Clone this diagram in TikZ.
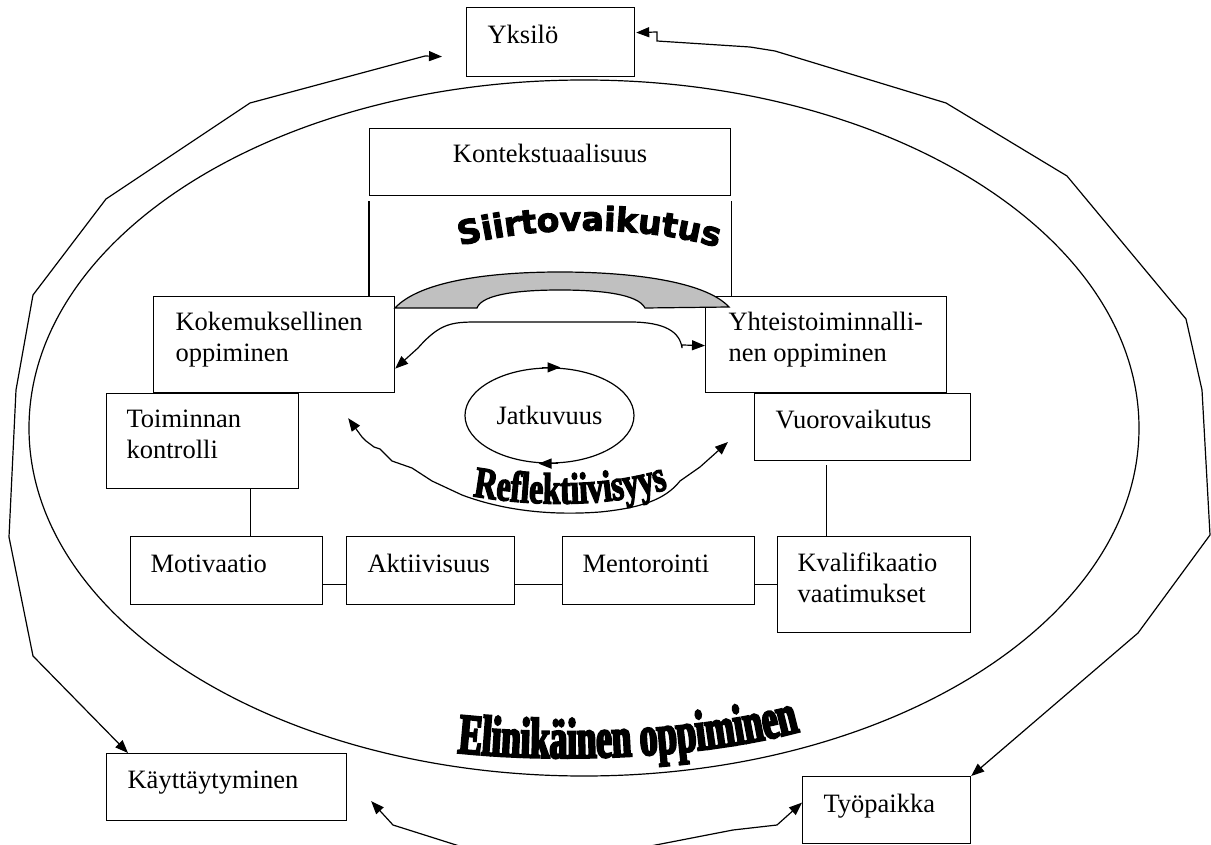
\documentclass[tikz,border=0pt]{standalone}
\usepackage{fontspec}
\setmainfont{Liberation Serif}
\newfontfamily\siirtofont{DejaVu Sans Bold}[FakeBold=3]
\newfontfamily\reflfont{Liberation Serif Bold}[FakeStretch=0.72,FakeBold=3]
\newfontfamily\elinfont{Liberation Serif Bold}[FakeStretch=0.62,FakeBold=4]
\usetikzlibrary{arrows.meta,shapes.geometric,decorations.text,calc}
\newcommand\siirtostyle{\siirtofont\fontsize{33pt}{36pt}\selectfont}
\newcommand\reflstyle{\reflfont\fontsize{44pt}{48pt}\selectfont}
\newcommand\elinstyle{\elinfont\fontsize{57pt}{60pt}\selectfont}
\begin{document}
\begin{tikzpicture}[x=1pt,y=-1pt,line width=1.2pt,
  >={Triangle[length=13pt,width=10pt]},
  box/.style={draw,rectangle,fill=white,anchor=north west,inner sep=0pt},
  lbl/.style={anchor=base west,inner sep=0pt,align=left,
    font=\fontsize{26.5pt}{31pt}\selectfont},
  thin/.style={line width=1pt}]
\useasboundingbox (0,0) rectangle (1211,845);
\clip (0,0) rectangle (1211,845);

% outer ellipse: lifelong learning
\node[draw,ellipse,minimum width=1110pt,minimum height=696pt,inner sep=0pt] (life) at (584,428) {};

% boxes
\node[box,minimum width=168pt,minimum height=69pt] (yks) at (466,7) {};
\node[box,minimum width=361pt,minimum height=67pt] (kon) at (369,128) {};
\node[box,minimum width=241pt,minimum height=96pt] (kok) at (153,296) {};
\node[box,minimum width=241pt,minimum height=96pt] (yht) at (705,296) {};
\node[box,minimum width=192pt,minimum height=95pt] (toi) at (106,393) {};
\node[box,minimum width=216pt,minimum height=67pt] (vuo) at (754,393) {};
\node[box,minimum width=192pt,minimum height=68pt] (mot) at (130,536) {};
\node[box,minimum width=168pt,minimum height=68pt] (akt) at (346,536) {};
\node[box,minimum width=192pt,minimum height=68pt] (men) at (562,536) {};
\node[box,minimum width=193pt,minimum height=96pt] (kva) at (777,536) {};
\node[box,minimum width=240pt,minimum height=67pt] (kay) at (106,753) {};
\node[box,minimum width=168pt,minimum height=67pt] (tyo) at (802,776) {};

% labels (two-line labels are anchored on their last baseline)
\node[lbl] (yksT) at ($(yks.north west)+(21,37)$) {Yksilö};
\node[lbl,anchor=base] (konT) at ($(kon.north)+(0,35)$) {Kontekstuaalisuus};
\node[lbl] (kokT) at ($(kok.north west)+(22,65)$) {Kokemuksellinen\\oppiminen};
\node[lbl] (yhtT) at ($(yht.north west)+(23,65)$) {Yhteistoiminnalli-\\nen oppiminen};
\node[lbl] (toiT) at ($(toi.north west)+(20,65)$) {Toiminnan\\kontrolli};
\node[lbl] (vuoT) at ($(vuo.north west)+(21,35)$) {Vuorovaikutus};
\node[lbl] (motT) at ($(mot.north west)+(20,36)$) {Motivaatio};
\node[lbl] (aktT) at ($(akt.north west)+(21,36)$) {Aktiivisuus};
\node[lbl] (menT) at ($(men.north west)+(20,36)$) {Mentorointi};
\node[lbl] (kvaT) at ($(kva.north west)+(20,66)$) {Kvalifikaatio\\vaatimukset};
\node[lbl] (kayT) at ($(kay.north west)+(21,35)$) {Käyttäytyminen};
\node[lbl] (tyoT) at ($(tyo.north west)+(21,36)$) {Työpaikka};

% legs of the context box
\draw ($(kon.south west)+(0,5)$) -- (kok.north west -| kon.south west);
\draw ($(kon.south east)+(0,5)$) -- (yht.north west -| kon.south east);

% grey transfer bridge
\path[draw,fill={rgb,255:red,192;green,192;blue,192}]
  (395,308) .. controls (420,281) and (490,272) .. (560,272)
  .. controls (630,272) and (705,281) .. (729,307)
  -- (645,308) .. controls (638,294) and (600,290) .. (560,290)
  .. controls (520,290) and (482,294) .. (477,308) -- cycle;

% continuity loop
\node[draw,ellipse,minimum width=169pt,minimum height=95pt,inner sep=0pt,
  font=\fontsize{26.5pt}{31pt}\selectfont] (jat) at (549.5,415.5) {Jatkuvuus};
\draw[->] ($(jat.north)+(-8,0)$) -- ($(jat.north)+(11,0)$);
\draw[->] ($(jat.south)+(8,0)$) -- ($(jat.south)+(-11,0)$);

% connectors between the boxes
\draw[thin] ($(toi.south west)!0.75!(toi.south east)$) coordinate (c1) -- (c1 |- mot.north);
\draw[thin] ([yshift=-4pt]$(vuo.south west)!0.333!(vuo.south east)$) coordinate (c2) -- (c2 |- kva.north);
\draw[thin] ($(mot.north east)!0.706!(mot.south east)$) coordinate (h1) -- (h1 -| akt.west);
\draw[thin] (h1 -| akt.east) -- (h1 -| men.west);
\draw[thin] (h1 -| men.east) -- (h1 -| kva.west);

% two-way arrow between experiential and cooperative learning
\draw[<->] ($(kok.east)+(0,24)$) -- (418,348)
  .. controls (440,323) and (452,322) .. (478,322) -- (630,322)
  .. controls (665,322) and (680,332) .. (682,348) -- (682,345)
  -- ($(yht.west)+(0,1)$);

% reflectivity arrow
\draw[<->] ($(kok.south east)+(-47,25)$) -- (362,437) -- (366,441) -- (374,447)
  -- (380,449) -- (392,461) -- (412,468) -- (432,481) -- (462,495)
  .. controls (510,513) and (560,515) .. (600,512)
  .. controls (640,508) and (665,500) .. (680,481) -- (700,467) -- (728,442);

% outer loops
\draw[<->] ($(kay.north west)+(22,0)$) -- (33,656) -- (9,537) -- (16,390)
  -- (33,295) -- (106,199) -- (250,103) -- (425,56) -- ($(yks.west)+(-24,14.5)$);
\draw[<->] ($(yks.east)+(1,-9.5)$) -- (657,32) -- (657,41) -- (750,47) -- (775,51)
  -- (946,103) -- (1067,176) -- (1186,319) -- (1202,390) -- (1210,535)
  -- (1138,633) -- (tyo.north east);
\draw[<->] ($(kay.south east)+(24,-20)$) -- (393,825) -- (532,869)
  -- (733,830) -- (777,825) -- ($(tyo.west)+(0,-7.5)$);

% curved titles
\path[decorate,decoration={text along path,text align=center,
  text={|\siirtostyle|Siirtovaikutus}}]
  (448,249) .. controls (535,224) and (645,224) .. (730,251);
\path[decorate,decoration={text along path,text align=center,
  text={|\reflstyle|Reflektiivisyys}}]
  (452,492) .. controls (530,509) and (620,509) .. (688,482);
\path[decorate,decoration={text along path,text align=center,
  text={|\elinstyle|Elinikäinen oppiminen}}]
  (452,752) .. controls (560,764) and (705,758) .. (805,730);
\end{tikzpicture}
\end{document}
